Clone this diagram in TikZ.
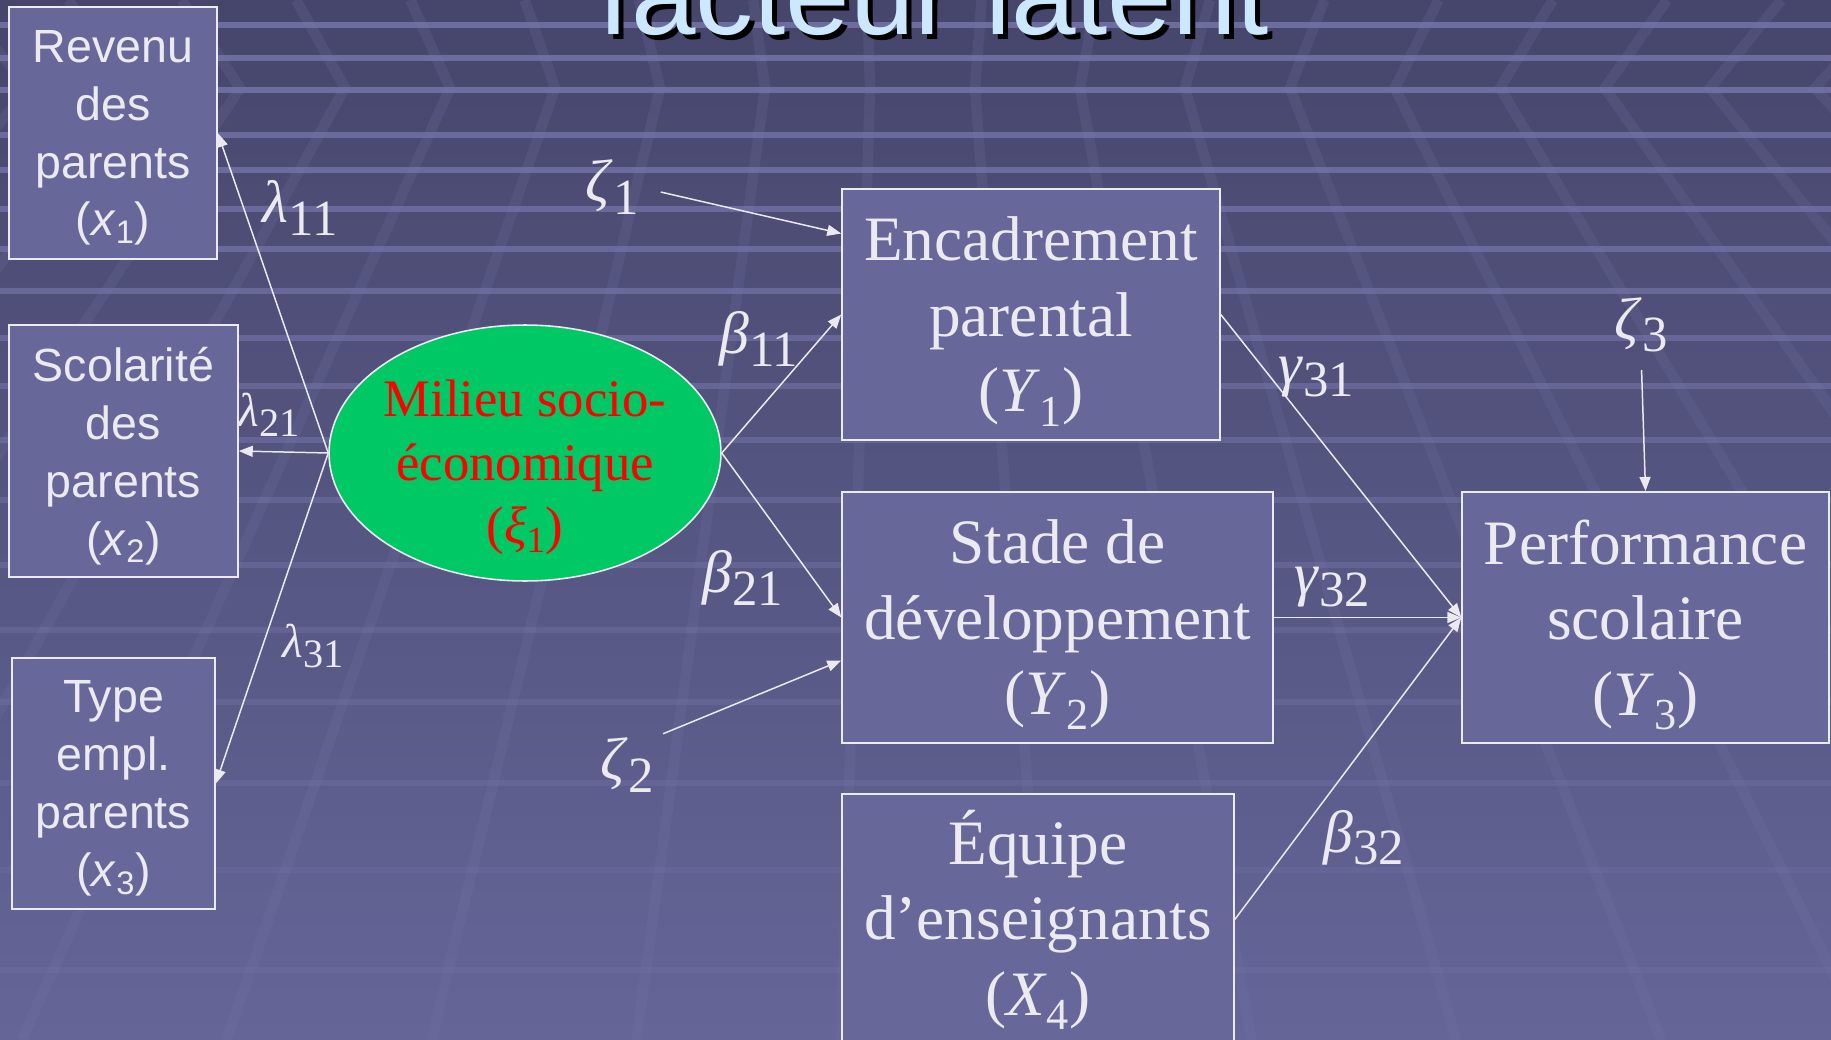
\documentclass[tikz,border=0pt]{standalone}
\usepackage{fontspec}
\setmainfont{Liberation Serif}
\setsansfont{Liberation Sans}
\usepackage{tikz}
\usetikzlibrary{arrows.meta,positioning,shapes.geometric,calc}

\definecolor{bgtop}{RGB}{70,70,108}
\definecolor{bgbot}{RGB}{101,101,152}
\definecolor{stripe}{RGB}{118,118,172}
\definecolor{ribline}{RGB}{120,120,170}
\definecolor{boxfill}{RGB}{103,103,154}
\definecolor{edge}{RGB}{234,234,240}
\definecolor{latgreen}{RGB}{0,200,100}
\definecolor{titleblue}{RGB}{204,232,255}

\newcommand{\vname}[2]{(\textit{#1}\textsubscript{#2})}
\newcommand{\coef}[2]{\textit{#1}\raisebox{-0.45ex}{\scalebox{0.85}{#2}}}

\begin{document}
\begin{tikzpicture}[
    x=0.02cm, y=-0.02cm,
    >={Triangle[length=0.28cm,width=0.22cm]},
    obs/.style={
        draw=edge,
        fill=boxfill,
        text=edge,
        minimum width=#1,
        minimum height=5.03cm,
        align=center,
        inner sep=0pt,
        text depth=0pt,
        line width=0.9pt
    },
    ind/.style={obs=#1, font=\sffamily\fontsize{26.5}{33}\selectfont},
    endo/.style={obs=#1, font=\fontsize{36}{43}\selectfont},
    coefl/.style={text=edge, inner sep=0pt, font=\fontsize{34}{40}\selectfont},
    small/.style={coefl, font=\fontsize{27}{32}\selectfont},
    flow/.style={->, draw=edge, line width=0.85pt}
]

\useasboundingbox (0,0) rectangle (1831,1040);

%-----------------------------------
% Background
%-----------------------------------
\shade[top color=bgtop, bottom color=bgbot] (0,0) rectangle (1831,1040);
\foreach \sy/\op in {25/0.8,58/0.8,90/0.8,135/0.75,170/0.75,209/0.7,249/0.7,291/0.65,338/0.6,
                     386/0.55,440/0.5,500/0.45,565/0.4,630/0.35,702/0.3,783/0.3,870/0.25,970/0.25}
    \draw[stripe, line width=3.5pt, opacity=\op] (0,\sy) -- (1831,\sy);
\foreach \cx in {-180,-75,...,1950}
    \draw[ribline, line width=6pt, opacity=0.18]
        ({\cx+(\cx-900)*0.088},0) -- (\cx,88) -- ({\cx+(\cx-900)*0.952},1040);

\node[anchor=base, text=black, font=\sffamily\fontsize{66}{70}\selectfont] at (939,40) {facteur latent};
\node[anchor=base, text=titleblue, font=\sffamily\fontsize{66}{70}\selectfont] (title) at (934,35) {facteur latent};

%-----------------------------------
% Indicators
%-----------------------------------
\node[ind=4.16cm] (rev) at (113,133) {Revenu\\des\\parents\\\vname{x}{1}};
\node[ind=4.58cm] (sco) at (123.5,451) {Scolarité\\des\\parents\\\vname{x}{2}};
\node[ind=4.06cm] (typ) at (113.5,783.5) {Type\\empl.\\parents\\\vname{x}{3}};

%-----------------------------------
% Latent factor
%-----------------------------------
\node[ellipse, draw=edge, fill=latgreen, text=red, line width=0.9pt,
      minimum width=7.84cm, minimum height=5.12cm, inner xsep=-0.3cm, inner ysep=-0.2cm,
      text depth=0pt, align=center, font=\fontsize{30}{36}\selectfont] (mil) at (525,453)
      {\rule{0pt}{31pt}Milieu socio-\\économique\\\vname{ξ}{1}};

%-----------------------------------
% Structural part
%-----------------------------------
\node[endo=7.56cm] (enc) at (1031,314.5) {Encadrement\\parental\\\vname{Y}{1}};
\node[endo=8.62cm] (sta) at (1057.5,617.5) {Stade de\\développement\\\vname{Y}{2}};
\node[endo=7.84cm, text depth=8pt] (equ) at (1038,919.5) {Équipe\\d’enseignants\\\vname{X}{4}};
\node[endo=7.34cm] (perf) at (1645.5,617.5) {Performance\\scolaire\\\vname{Y}{3}};

\node[coefl] (z1) at (612,187) {\coef{ζ}{1}};
\node[coefl] (z2) at (627,765) {\coef{ζ}{2}};
\node[coefl] (z3) at (1641,325) {\coef{ζ}{3}};

%-----------------------------------
% Arrows
%-----------------------------------
\draw[flow] (mil.west) -- (rev.east);
\draw[flow] (mil.west) -- (sco.east);
\draw[flow] (mil.west) -- (typ.east);

\draw[flow] (mil.east) -- (enc.west);
\draw[flow] (mil.east) -- (sta.west);

\draw[flow, shorten <=0.45cm] (z1.east) -- ($(enc.north west)!0.18!(enc.south west)$);
\draw[flow, shorten <=0.2cm] (z2.north east) -- ($(sta.north west)!0.67!(sta.south west)$);
\draw[flow, shorten <=0.35cm] (z3.south) -- (perf.north);

\draw[flow] (enc.east) -- (perf.west);
\draw[flow] (sta.east) -- (perf.west);
\draw[flow] (equ.east) -- (perf.west);

%-----------------------------------
% Coefficients
%-----------------------------------
\node[coefl] at (300,208) {\coef{λ}{11}};
\node[small] at (269,415) {\coef{λ}{21}};
\node[small] at (313,646) {\coef{λ}{31}};
\node[coefl] at (759,339) {\coef{β}{11}};
\node[coefl] at (743,578) {\coef{β}{21}};
\node[coefl] at (1316,377) {\coef{γ}{31}};
\node[coefl] at (1332,587) {\coef{γ}{32}};
\node[coefl] at (1364,838) {\coef{β}{32}};

\end{tikzpicture}
\end{document}
